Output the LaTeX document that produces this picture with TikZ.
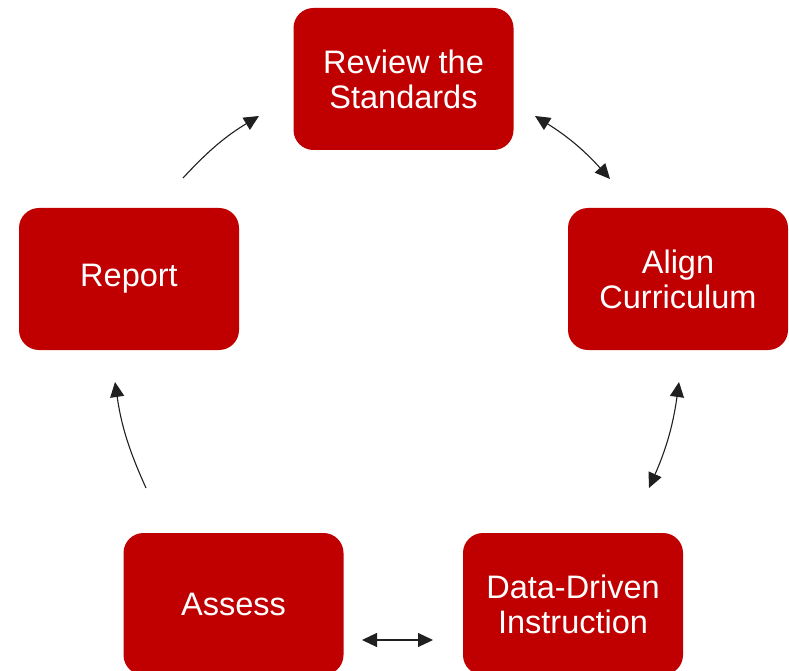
\documentclass[tikz,border=0pt]{standalone}
\usepackage{fontspec}
\setmainfont{Liberation Sans}
\usetikzlibrary{arrows.meta}
\definecolor{boxred}{HTML}{C00000}
\definecolor{arrowgray}{HTML}{202020}
\begin{document}
\begin{tikzpicture}[x=1pt,y=1pt,
  stagebox/.style={fill=boxred, draw=none, rounded corners=20pt,
    minimum width=220pt, minimum height=142pt, align=center,
    text=white, font=\fontsize{32.5}{35}\selectfont},
  link/.style={draw=arrowgray, line width=1.1pt}]
\useasboundingbox (0,0) rectangle (789,670);
\node[stagebox] (review) at (403.5,591) {Review the\\Standards};
\node[stagebox] (align) at (678,391) {Align\\Curriculum};
\node[stagebox] (report) at (129,391) {Report};
\node[stagebox] (data) at (573,66) {Data-Driven\\Instruction};
\node[stagebox] (assess) at (233.5,66) {Assess};
\coordinate (a1s) at (183,492);
\coordinate (a1e) at (259,554);
\coordinate (a2s) at (535,554);
\coordinate (a2e) at (610,491);
\coordinate (a3s) at (679,288);
\coordinate (a3e) at (649,182);
\coordinate (a4s) at (433,30);
\coordinate (a4e) at (362,30);
\coordinate (a5s) at (146,182);
\coordinate (a5e) at (115,288);
\draw[link, -{Triangle[length=15pt,width=14pt]}] (a1s) to[bend left=8] (a1e);
\draw[link, {Triangle[length=15pt,width=14pt]}-{Triangle[length=15pt,width=14pt]}] (a2s) to[bend left=8] (a2e);
\draw[link, {Triangle[length=15pt,width=14pt]}-{Triangle[length=15pt,width=14pt]}] (a3s) to[bend left=8] (a3e);
\draw[link, {Triangle[length=15pt,width=14pt]}-{Triangle[length=15pt,width=14pt]}] (a4s) -- (a4e);
\draw[link, -{Triangle[length=15pt,width=14pt]}] (a5s) to[bend left=8] (a5e);
\end{tikzpicture}
\end{document}
